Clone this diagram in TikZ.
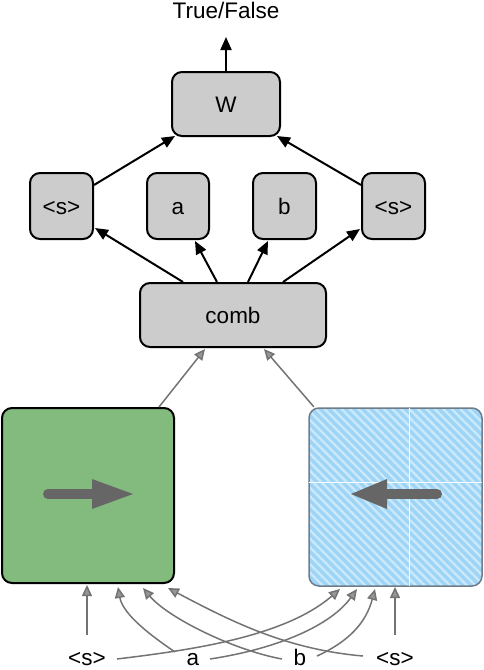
\documentclass[tikz,border=0pt]{standalone}
\usepackage{fontspec}
\setmainfont{Liberation Sans}
\usetikzlibrary{arrows.meta,calc,patterns.meta}
\definecolor{boxgray}{RGB}{204,204,204}
\definecolor{greenfill}{RGB}{130,187,125}
\definecolor{bluefill}{RGB}{158,212,245}
\definecolor{bluestripe}{RGB}{202,233,251}
\definecolor{blueedge}{RGB}{110,125,135}
\definecolor{arrowgray}{RGB}{102,102,102}
\definecolor{linkgray}{RGB}{115,115,115}
\definecolor{headgray}{RGB}{150,150,150}
\begin{document}
\begin{tikzpicture}[x=1pt,y=-1pt,
  every node/.style={font=\fontsize{22.5}{27}\selectfont},
  box/.style={draw=black,line width=2pt,fill=boxgray,rounded corners=10pt,inner sep=0pt,text height=16pt,text depth=0pt},
  blk/.style={line width=2pt,-{Triangle[length=13pt,width=11pt]}},
  lnk/.style={draw=linkgray,line width=1.5pt,-{Triangle[length=11pt,width=10pt,fill=headgray]}},
  bigarrow/.style={draw=arrowgray,line width=10pt,line cap=round},
  lbl/.style={anchor=base,inner sep=0pt}
]
\useasboundingbox (0,0) rectangle (484,670);

% top part
\node[anchor=base] (tf) at (226,18.5) {True/False};
\coordinate (tfin) at (226,37);
\node[box,minimum width=108pt,minimum height=64pt] (W) at (226,104) {W};
\node[box,minimum width=63pt,minimum height=66pt] (sL) at (61.5,206) {<s>};
\node[box,minimum width=62pt,minimum height=66pt] (a) at (178,206) {a};
\node[box,minimum width=63pt,minimum height=66pt] (b) at (284.5,206) {b};
\node[box,minimum width=63pt,minimum height=66pt] (sR) at (393.5,206) {<s>};
\node[box,minimum width=186pt,minimum height=64pt] (comb) at (233,315) {comb};

\draw[blk] (W.north) -- (tfin);
\draw[blk] ($(sL.north east)+(0,13)$) -- ($(W.south west)+(4,-1)$);
\draw[blk] ($(sR.north west)+(0,13)$) -- ($(W.south east)+(-4,-1)$);
\draw[blk] ($(comb.north)+(-50,0)$) -- ($(sL.south east)+(1,-12)$);
\draw[blk] ($(comb.north)+(-16,0)$) -- ($(a.south)+(17,1)$);
\draw[blk] ($(comb.north)+(15,0)$) -- ($(b.south)+(-16.5,1)$);
\draw[blk] ($(comb.north)+(50,0)$) -- ($(sR.south west)+(-1,-11)$);

% lower boxes
\node[draw=black,line width=2pt,fill=greenfill,rounded corners=10pt,minimum width=172pt,minimum height=175pt,inner sep=0pt] (green) at (88,495.5) {};
\node[draw=blueedge,line width=1.5pt,preaction={fill=bluefill},pattern={Lines[angle=-45,distance=6pt,line width=2.4pt]},pattern color=bluestripe,rounded corners=10pt,minimum width=173pt,minimum height=178pt,inner sep=0pt] (blue) at (395.5,497) {};
\draw[white,line width=1pt] ($(blue.north)+(13.5,1)$) -- ($(blue.south)+(13.5,-1)$);
\draw[white,line width=1pt] ($(blue.west)+(1,-15)$) -- ($(blue.east)+(-1,-15)$);

% big arrows inside
\draw[bigarrow] (48,494) -- (95,494);
\fill[arrowgray] (92,479) -- (133,494) -- (92,509) -- cycle;
\draw[bigarrow] (437,494) -- (384,494);
\fill[arrowgray] (387,479) -- (351,494) -- (387,509) -- cycle;

% links to comb
\draw[lnk] ($(green.north east)+(-16,0)$) -- ($(comb.south)+(-28,1)$);
\draw[lnk] ($(blue.north west)+(6,0)$) -- ($(comb.south)+(31,1)$);

% bottom labels
\node[lbl] (l1) at (87,665.5) {<s>};
\node[lbl] (l2) at (193,665.5) {a};
\node[lbl] (l3) at (300,665.5) {b};
\node[lbl] (l4) at (395,665.5) {<s>};

\coordinate (p1) at (87,635);
\coordinate (p2) at (175,652);
\coordinate (p3) at (282,659);
\coordinate (p4) at (363,656);
\coordinate (q1) at (117,659);
\coordinate (q2) at (210,659);
\coordinate (q3) at (317,656);
\coordinate (q4) at (395,635);
\coordinate (g1) at (87,585);
\coordinate (g2) at (118,587);
\coordinate (g3) at (143,588);
\coordinate (g4) at (168,588);
\coordinate (h1) at (340,589);
\coordinate (h2) at (357,589);
\coordinate (h3) at (375,589);
\coordinate (h4) at (395,587);

\draw[lnk] (p1) -- (g1);
\draw[lnk] (p2) .. controls (154.5,638) and (123,615.4) .. (g2);
\draw[lnk] (p3) .. controls (233,650) and (167.8,617.6) .. (g3);
\draw[lnk] (p4) .. controls (288,649.5) and (234,623) .. (g4);
\draw[lnk] (q1) .. controls (191,650) and (284.5,637) .. (h1);
\draw[lnk] (q2) .. controls (279,648.5) and (331.3,624.9) .. (h2);
\draw[lnk] (q3) .. controls (348.7,641.5) and (365.9,623) .. (h3);
\draw[lnk] (q4) -- (h4);
\end{tikzpicture}
\end{document}
